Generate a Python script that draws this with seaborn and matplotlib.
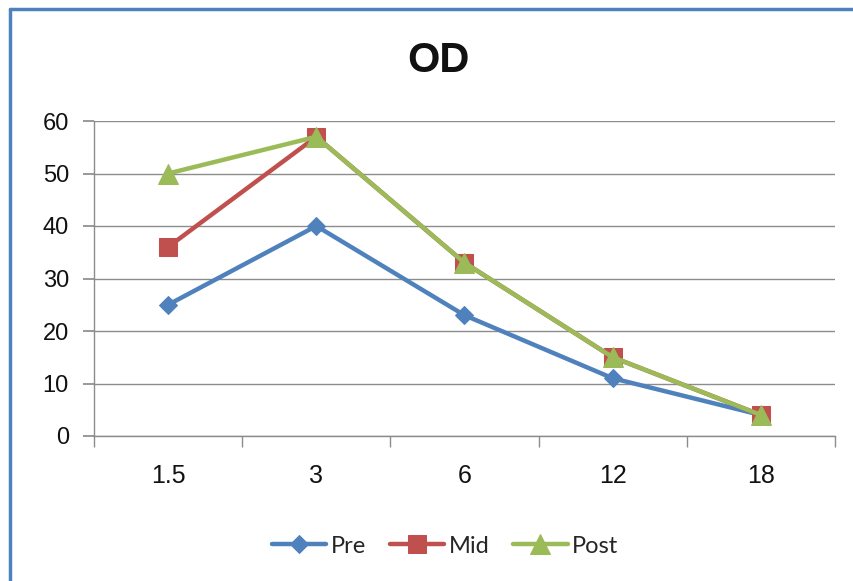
import pandas as pd
import matplotlib
matplotlib.use("Agg")
import matplotlib.pyplot as plt
from matplotlib.lines import Line2D
import seaborn as sns

# chart data
categories = ['1.5', '3', '6', '12', '18']
pre = [25, 40, 23, 11, 4]
mid = [36, 57, 33, 15, 4]
post = [50, 57, 33, 15, 4]

sns.set_theme(style='white')
plt.rcParams['font.family'] = ['Liberation Sans', 'DejaVu Sans']

fig = plt.figure(figsize=(8.54, 5.81), dpi=100)
ax = fig.add_axes([94/854, 1-436/581, (835-94)/854, (436-121)/581])

# series styles
styles = [('Pre', pre, '#4F81BD', 'D', 9),
          ('Mid', mid, '#C0504D', 's', 13),
          ('Post', post, '#9BBB59', '^', 14)]

for name, vals, col, mk, ms in styles:
    df = pd.DataFrame({'x': categories, 'y': vals})
    sns.lineplot(data=df, x='x', y='y', ax=ax, color=col, lw=3.2,
                 marker=mk, markersize=ms, markeredgecolor=col,
                 label=name, sort=False)

ax.set_xlim(-0.5, len(categories) - 0.5)
ax.set_ylim(0, 60)
ax.set_yticks(range(0, 61, 10))
ax.set_xticks(range(len(categories)))
ax.set_xticklabels(categories)
ax.set_xticks([i - 0.5 for i in range(len(categories) + 1)], minor=True)
ax.set_xlabel('')
ax.set_ylabel('')

# gridlines + axis look
ax.grid(axis='y', color='#8c8c8c', lw=1)
ax.set_axisbelow(True)
for s in ['top', 'right']:
    ax.spines[s].set_visible(False)
for s in ['left', 'bottom']:
    ax.spines[s].set_color('#8c8c8c')
    ax.spines[s].set_linewidth(1)
ax.tick_params(axis='y', which='major', left=True, length=8, color='#8c8c8c',
               labelsize=17, pad=10, labelcolor='#111111')
ax.tick_params(axis='x', which='major', bottom=False, labelsize=18, pad=14,
               labelcolor='#111111')
ax.tick_params(axis='x', which='minor', bottom=True, length=8, color='#8c8c8c')

# title is centred on the whole chart area, not the plot area
fig.text(438/854, 1-61/581, 'OD', fontsize=30, fontweight='bold',
         ha='center', va='center', color='#111111')

leg = ax.legend(loc='center', bbox_to_anchor=(0.474, -0.35), ncol=3, frameon=False,
                prop={'family': 'Lato', 'size': 17}, handlelength=2.3,
                columnspacing=1.0, handletextpad=0.2)

# blue frame edges visible in the reference crop
fig.add_artist(Line2D([10/854, 10/854], [0, 1-9/581], color='#4F81BD', lw=2.5))
fig.add_artist(Line2D([10/854, 1], [1-9/581, 1-9/581], color='#4F81BD', lw=2.5))

fig.savefig('out.png', dpi=100)
